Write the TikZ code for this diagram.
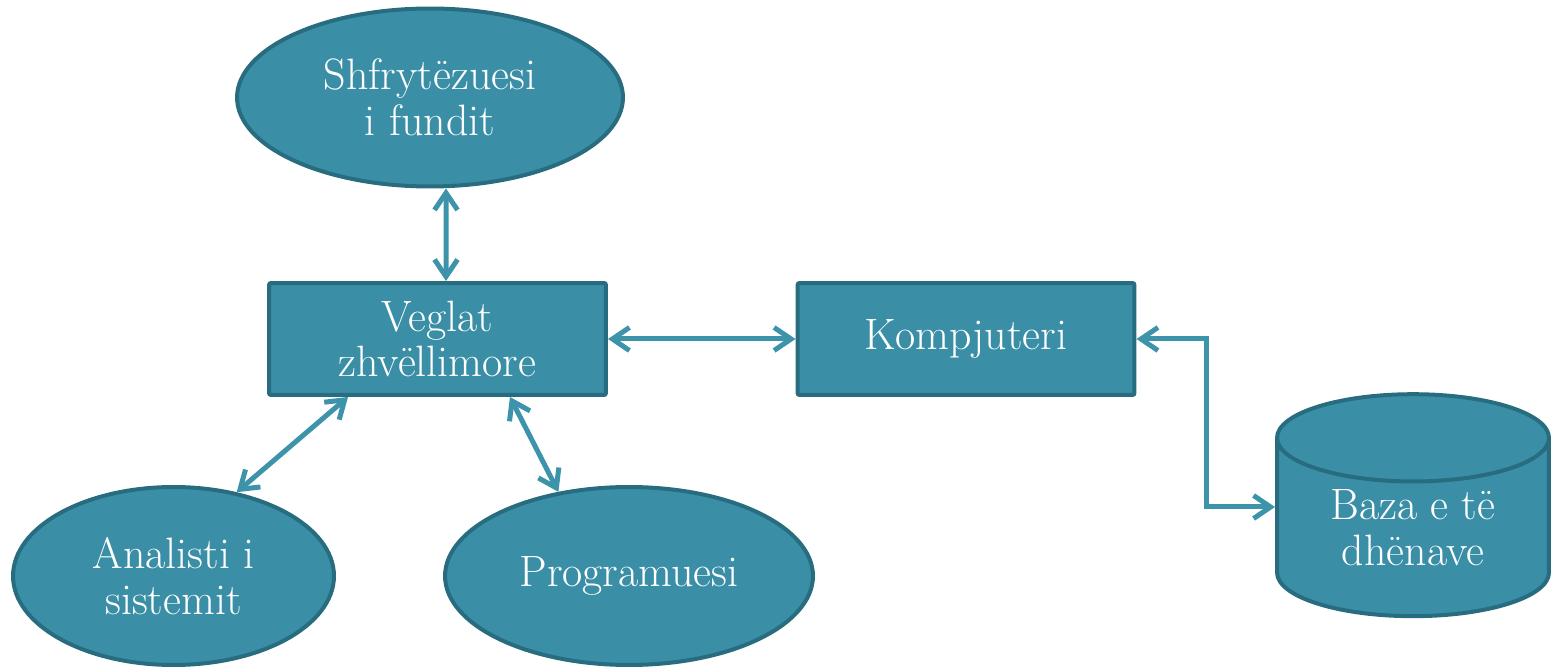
\documentclass[tikz,border=0pt]{standalone}
\usepackage{tikz}
\usetikzlibrary{arrows.meta,shapes.geometric}
\definecolor{tealfill}{HTML}{3A8FA7}
\definecolor{tealedge}{HTML}{286C80}
\definecolor{tealline}{HTML}{3C93AA}
\tikzset{
	blok/.style={draw=tealedge, line width=0.08cm, fill=tealfill, text=white, rounded corners=0.04cm, minimum width=6.74cm, minimum height=2.24cm, align=center, font=\fontsize{25}{26}\selectfont},
	elips/.style={ellipse, draw=tealedge, line width=0.08cm, fill=tealfill, text=white, minimum height=3.56cm, align=center, inner sep=0pt, font=\fontsize{25}{26}\selectfont},
	baza/.style={cylinder, shape border rotate=90, aspect=0.53, draw=tealedge, line width=0.08cm, fill=tealfill, text=white, minimum width=5.44cm, minimum height=4.44cm, align=center, inner sep=0pt, font=\fontsize{25}{26}\selectfont},
	lidhje/.style={draw=tealline, line width=0.1cm, {Straight Barb[length=0.34cm, width=0.46cm]}-{Straight Barb[length=0.34cm, width=0.46cm]}}
}
\begin{document}
\begin{tikzpicture}[x=0.02cm, y=-0.02cm]
	%\draw [help lines] (0,0) grid (1551,668);
	\useasboundingbox (0,0) rectangle (1551,668);
	\node [elips, minimum width=7.72cm] (user) at (430,97.5) {Shfrytëzuesi\\i fundit};
	\node [blok] (veg) at (437.5,339) {Veglat\\zhvëllimore};
	\node [blok] (komp) at (966,339) {Kompjuteri};
	\node [baza] (db) at (1413,528) {Baza e të\\dhënave};
	\node [elips, minimum width=6.42cm] (ana) at (173.5,576) {Analisti i\\sistemit};
	\node [elips, minimum width=7.36cm] (prog) at (629,576) {Programuesi};
	%Lidhjet
	\draw [lidhje] ([xshift=0.32cm]user.south) -- ([xshift=0.17cm]veg.north);
	\draw [lidhje] (veg.east) -- (komp.west);
	\draw [lidhje] (komp.east) -- ++(70,0) |- ([yshift=0.42cm]db.west);
	\draw [lidhje] ([xshift=-1.79cm]veg.south) -- (ana.53);
	\draw [lidhje] ([xshift=1.45cm]veg.south) -- (prog.130);
\end{tikzpicture}
\end{document}
